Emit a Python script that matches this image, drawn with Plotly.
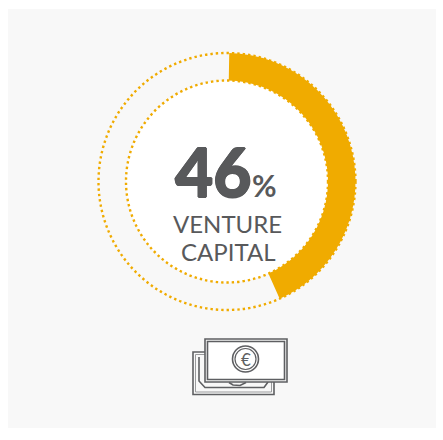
import plotly.graph_objects as go

labels = ["Venture capital", "Other"]
values = [43, 57]
big_number = "46"
unit = "%"
caption = ["VENTURE", "CAPITAL"]
W, H = 443, 440
ORANGE = "#f0ab00"
GREY = "#58595b"
ICON = "#5e5f62"
cx, cy, R, r = 227, 181.5, 128.5, 101


def px(x):
    return x / W


def py(y):
    return 1 - y / H


def circle(c_x, c_y, rad, **kw):
    return dict(type="circle", xref="paper", yref="paper",
                x0=px(c_x - rad), x1=px(c_x + rad), y0=py(c_y + rad), y1=py(c_y - rad), **kw)


def rect(x0, y0, x1, y1, **kw):
    return dict(type="rect", xref="paper", yref="paper",
                x0=px(x0), x1=px(x1), y0=py(y1), y1=py(y0), **kw)


def path(points, **kw):
    d = "M " + " L ".join(f"{px(x):.5f},{py(y):.5f}" for x, y in points)
    return dict(type="path", xref="paper", yref="paper", path=d, **kw)


fig = go.Figure(go.Pie(
    labels=labels, values=values, hole=r / R, sort=False, direction="clockwise", rotation=1,
    marker=dict(colors=[ORANGE, "rgba(0,0,0,0)"], line=dict(width=0)),
    textinfo="none", hoverinfo="label+percent", showlegend=False,
    domain=dict(x=[px(cx - R), px(cx + R)], y=[py(cy + R), py(cy - R)]),
))

dots = dict(color=ORANGE, width=2.4, dash="2.4px,3px")
thin = dict(color=ICON, width=1.6)
shapes = [
    rect(8, 9, 436, 428, fillcolor="#f8f8f8", line=dict(width=0), layer="below"),
    circle(cx, cy, r, fillcolor="#ffffff", line=dict(width=0), layer="below"),
    circle(cx, cy, R, line=dots),
    circle(cx, cy, r, line=dots),
    # banknote icon: back note
    rect(193, 352, 274, 394.5, line=thin, fillcolor="#f8f8f8"),
    rect(195.5, 354.5, 271.5, 392, line=dict(color="#9a9b9d", width=1)),
    path([(199, 357), (199, 381), (205, 387.5), (264, 387.5), (268, 382)], line=thin),
    # front note
    rect(205, 339, 287, 382, line=thin, fillcolor="#f8f8f8"),
    rect(207.5, 341.5, 284.5, 379.5, line=thin, fillcolor="#ffffff"),
    path([(229, 382.5), (233, 385), (240, 385.5), (246, 382.5)], line=thin),
    circle(245.5, 359, 13, line=thin),
    circle(245.5, 359, 10.5, line=dict(color=ICON, width=1.2)),
]


def note(text, x, y, size, font="Lato", color=GREY, anchor="center", weight="normal", shadow="none"):
    return dict(text=text, xref="paper", yref="paper", x=px(x), y=py(y), showarrow=False,
                xanchor=anchor, yanchor="middle",
                font=dict(family=font, size=size, color=color, weight=weight, shadow=shadow))


heavy = f"0.8px 0 0 {GREY}, -0.8px 0 0 {GREY}, 0 0.6px 0 {GREY}, 0 -0.6px 0 {GREY}"
annotations = [
    note(big_number, 213.5, 171.5, 66, weight=900, shadow=heavy),
    note(unit, 250, 185, 30, weight=700, anchor="left"),
    note(caption[0], 227.5, 224, 24),
    note(caption[1], 227.5, 251, 24),
    note("€", 245.5, 359, 17, color=ICON),
]

fig.update_layout(
    width=W, height=H, margin=dict(l=0, r=0, t=0, b=0), autosize=False,
    paper_bgcolor="#ffffff", plot_bgcolor="#ffffff",
    shapes=shapes, annotations=annotations,
)
fig.write_html("out.html", config=dict(displayModeBar=False),
               post_script="document.body.style.margin='0';document.body.style.overflow='hidden';")
